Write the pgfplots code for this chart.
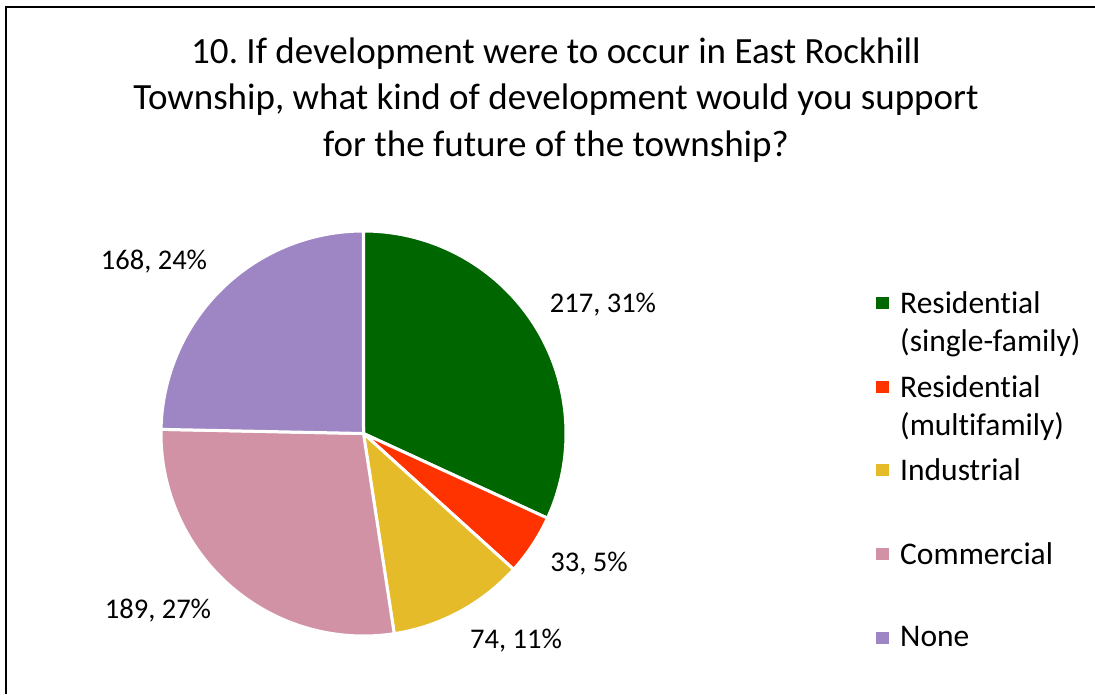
\documentclass[border=0pt]{standalone}
\usepackage{pgfplots}
\pgfplotsset{compat=1.18}
\usepgfplotslibrary{polar}
\usepackage{fontspec}
\setmainfont{Carlito}[Ligatures={NoCommon}]
\frenchspacing
\definecolor{cA}{RGB}{0,102,0}
\definecolor{cB}{RGB}{255,51,0}
\definecolor{cC}{RGB}{230,187,42}
\definecolor{cD}{RGB}{209,146,166}
\definecolor{cE}{RGB}{158,134,196}
\begin{document}
\begin{tikzpicture}[x=1pt,y=1pt]
\path[use as bounding box] (0,0) rectangle (1095,694);
\draw[line width=2.5pt] (6,0) -- (6,687) -- (1095,687);
% counts
\pgfmathsetmacro\vA{217}
\pgfmathsetmacro\vB{33}
\pgfmathsetmacro\vC{74}
\pgfmathsetmacro\vD{189}
\pgfmathsetmacro\vE{168}
\pgfmathsetmacro\tot{\vA+\vB+\vC+\vD+\vE}
\pgfmathsetmacro\aA{90-360*(\vA/\tot)}
\pgfmathsetmacro\aB{\aA-360*(\vB/\tot)}
\pgfmathsetmacro\aC{\aB-360*(\vC/\tot)}
\pgfmathsetmacro\aD{\aC-360*(\vD/\tot)}
\pgfmathsetmacro\aE{\aD-360*(\vE/\tot)}
\begin{polaraxis}[hide axis, at={(363.5pt,260.5pt)}, anchor=center,
  width=405pt, height=405pt, scale only axis, ymin=0, ymax=1, clip=false]
\addplot[fill=cA, draw=white, line width=3pt, domain=\aA:90, samples=150] {1} -- (axis cs:0,0) -- cycle;
\addplot[fill=cB, draw=white, line width=3pt, domain=\aB:\aA, samples=40] {1} -- (axis cs:0,0) -- cycle;
\addplot[fill=cC, draw=white, line width=3pt, domain=\aC:\aB, samples=60] {1} -- (axis cs:0,0) -- cycle;
\addplot[fill=cD, draw=white, line width=3pt, domain=\aD:\aC, samples=130] {1} -- (axis cs:0,0) -- cycle;
\addplot[fill=cE, draw=white, line width=3pt, domain=\aE:\aD, samples=120] {1} -- (axis cs:0,0) -- cycle;
\end{polaraxis}
% title
\node[align=center, font=\fontsize{37}{46.5}\selectfont] at (556,594) {10. If development were to occur in East Rockhill\\Township, what kind of development would you support\\for the future of the township?};
% data labels
\begin{scope}[every node/.style={font=\fontsize{28.5}{32}\selectfont}]
\node at (603,389) {217, 31\%};
\node at (589,130) {33, 5\%};
\node at (516,53) {74, 11\%};
\node at (158,83) {189, 27\%};
\node at (154,432) {168, 24\%};
\end{scope}
% legend
\begin{scope}[every node/.style={font=\fontsize{31.5}{40}\selectfont, anchor=west, inner sep=0pt}]
\fill[cA] (876,385) rectangle (889,397);
\node at (900,391) {Residential};
\node at (900,351) {(single-family)};
\fill[cB] (876,301) rectangle (889,313);
\node at (900,307) {Residential};
\node at (900,267) {(multifamily)};
\fill[cC] (876,218) rectangle (889,230);
\node at (900,224) {Industrial};
\fill[cD] (876,134) rectangle (889,146);
\node at (900,140) {Commercial};
\fill[cE] (876,50) rectangle (889,62);
\node at (900,57) {None};
\end{scope}
\end{tikzpicture}
\end{document}
